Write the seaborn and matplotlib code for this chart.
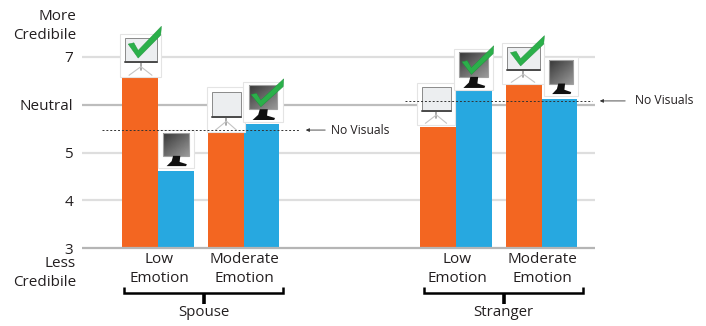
import numpy as np
import pandas as pd
import matplotlib.pyplot as plt
from matplotlib.patches import Polygon, Rectangle
import seaborn as sns

# Values
relationship = ['Spouse', 'Spouse', 'Stranger', 'Stranger']
emotion = ['Low', 'Moderate', 'Low', 'Moderate']
screen_values = [6.56, 5.42, 5.53, 6.41]
monitor_values = [4.61, 5.60, 6.29, 6.12]
no_visuals = [5.47, 6.08]
tick_values = [3, 4, 5, 6, 7]
tick_labels = ['3', '4', '5', 'Neutral', '7']

sns.set_theme(style='white')
plt.rcParams['font.family'] = ['Open Sans', 'DejaVu Sans']
text_color = '#231f20'

fig = plt.figure(figsize=(7.06, 3.26), dpi=100)
ax = fig.add_axes([80 / 706, 78 / 326, 626 / 706, 248 / 326])
ax.patch.set_alpha(0)

# Pixel centre of each bar group
group_x = [158, 243.5, 456, 541.5]

df = pd.DataFrame({
    'x': group_x * 2,
    'value': screen_values + monitor_values,
    'visual': ['Screen'] * 4 + ['Monitor'] * 4,
})

# Gridlines first, so the bars sit on top
for t in tick_values[1:]:
    ax.hlines(t, 82, 595, color='#bdbdbd' if t == 6 else '#dedede', lw=1.6, zorder=0)

sns.barplot(data=df, x='x', y='value', hue='visual', hue_order=['Screen', 'Monitor'],
            palette=['#F36621', '#27A8E0'], native_scale=True, width=0.84, gap=0,
            saturation=1, legend=False, errorbar=None, ax=ax, zorder=2, linewidth=0)

ax.set_xlim(80, 706)
ax.set_ylim(3, 3 + 248 / 47.75)
ax.set_xlabel('')
ax.set_ylabel('')
ax.set_xticks([])
ax.set_yticks(tick_values, tick_labels, fontsize=11, color=text_color)
ax.tick_params(axis='y', length=0, pad=5)
sns.despine(ax=ax, left=True, top=True, right=True, bottom=True)
ax.hlines(3, 82, 595, color='#b5b5b5', lw=1.6, zorder=3, clip_on=False)

# Overlay in reference pixels for icons, brackets and notes
ann = fig.add_axes([0, 0, 1, 1])
ann.set_xlim(0, 706)
ann.set_ylim(326, 0)
ann.axis('off')
ann.patch.set_alpha(0)


def draw_check(x0, y0, x1, y1):
    w, h = x1 - x0, y1 - y0
    shape = [(0, 0.56), (0.17, 0.52), (0.3, 0.76), (1, 0), (0.98, 0.28), (0.3, 1)]
    ann.add_patch(Polygon([(x0 + a * w, y0 + b * h) for a, b in shape],
                          fc='#2bb04a', ec='#1e8f3b', lw=0.3, zorder=7))


def draw_box(x0, y0, x1, y1):
    ann.add_patch(Rectangle((x0, y0), x1 - x0, y1 - y0, fc='white', ec='#e4e4e4',
                            lw=0.8, zorder=4))


def draw_screen(x0, y0, x1, y1, check=False):
    draw_box(x0, y0, x1, y1)
    w, h = x1 - x0, y1 - y0
    left, right = x0 + 0.12 * w, x1 - 0.1 * w
    top, bottom = y0 + 0.1 * h, y0 + 0.66 * h
    ann.add_patch(Rectangle((left, top), right - left, bottom - top, fc='#eceef0',
                            ec='#8a8a8a', lw=0.7, zorder=5))
    ann.plot([left, right], [bottom, bottom], color='#4a4a4a', lw=1.4, zorder=6)
    mid = (left + right) / 2
    ann.plot([mid, mid], [bottom, y0 + 0.84 * h], color='#9a9a9a', lw=1.2, zorder=5)
    ann.plot([x0 + 0.22 * w, mid, x1 - 0.22 * w],
             [y0 + 0.96 * h, y0 + 0.76 * h, y0 + 0.96 * h], color='#c4c4c4', lw=0.8, zorder=5)
    if check:
        draw_check(x0 + 0.2 * w, y0 - 0.18 * h, x1 + 0.01 * w, y0 + 0.56 * h)


def draw_monitor(x0, y0, x1, y1, check=False):
    draw_box(x0, y0, x1, y1)
    w, h = x1 - x0, y1 - y0
    left, right = x0 + 0.14 * w, x1 - 0.14 * w
    top, bottom = y0 + 0.08 * h, y0 + 0.68 * h
    # screen shading: dark at the upper left, mid grey towards the lower right
    gx, gy = np.meshgrid(np.linspace(0, 1, 20), np.linspace(0, 1, 20))
    ann.imshow(0.22 + 0.18 * gx + 0.2 * gy, extent=(left, right, bottom, top), cmap='gray',
               vmin=0, vmax=1, aspect='auto', zorder=5)
    ann.add_patch(Rectangle((left, top), right - left, bottom - top, fc='none',
                            ec='#a0a0a0', lw=0.8, zorder=6))
    ann.add_patch(Polygon([(x0 + 0.42 * w, bottom), (x0 + 0.62 * w, bottom), (x0 + 0.6 * w, y0 + 0.84 * h),
                           (x0 + 0.8 * w, y0 + 0.9 * h), (x0 + 0.78 * w, y0 + 0.95 * h),
                           (x0 + 0.24 * w, y0 + 0.95 * h), (x0 + 0.38 * w, y0 + 0.82 * h)],
                          fc='#111111', ec='none', zorder=6))
    if check:
        draw_check(x0 + 0.2 * w, y0 - 0.08 * h, x1 + 0.02 * w, y0 + 0.62 * h)


draw_screen(120, 34, 161, 77, check=True)
draw_monitor(158, 130, 194, 168)
draw_screen(207, 87, 245, 132)
draw_monitor(243, 82, 283, 122, check=True)
draw_screen(417, 83, 455, 125)
draw_monitor(454, 49, 493, 90, check=True)
draw_screen(502, 43, 544, 84, check=True)
draw_monitor(544, 57, 578, 96)
ann.set_xlim(0, 706)
ann.set_ylim(326, 0)

# No Visuals reference lines
for value, (x0, x1), (tail, head), note_x in zip(no_visuals, [(102, 300), (405, 592)],
                                                 [(328, 303), (628, 597)], [331, 635]):
    py = 248 - (value - 3) * 47.75
    ann.plot([x0, x1], [py, py], color='#333333', lw=0.7, ls=(0, (2, 2)), zorder=8)
    ann.annotate('', xy=(head, py), xytext=(tail, py),
                 arrowprops=dict(arrowstyle='-|>', color='#333333', lw=0.6, mutation_scale=5))
    ann.text(note_x, py, 'No Visuals', fontsize=8.7, color=text_color, va='center')

# Category labels and brackets
for x, emo in zip(group_x, emotion):
    ann.text(x + 1, 269, emo + '\nEmotion', fontsize=11, color=text_color, ha='center',
             va='center', linespacing=1.3)

for i, (x0, x1) in enumerate([(124, 283), (424, 583)]):
    ann.plot([x0, x0, x1, x1], [287, 293, 293, 287], color='black', lw=1.8,
             solid_joinstyle='miter', solid_capstyle='butt')
    mid = (x0 + x1) / 2
    ann.plot([mid, mid], [293, 304], color='black', lw=2.6, solid_capstyle='butt')
    ann.text(mid, 313, relationship[i * 2], fontsize=10.8, color=text_color, ha='center', va='center')

ann.text(76, 26, 'More\nCredibile', fontsize=11, color=text_color, ha='right', va='center',
         linespacing=1.3)
ann.text(76, 273, 'Less\nCredibile', fontsize=11, color=text_color, ha='right', va='center',
         linespacing=1.3)

fig.savefig('out.png', dpi=100)
